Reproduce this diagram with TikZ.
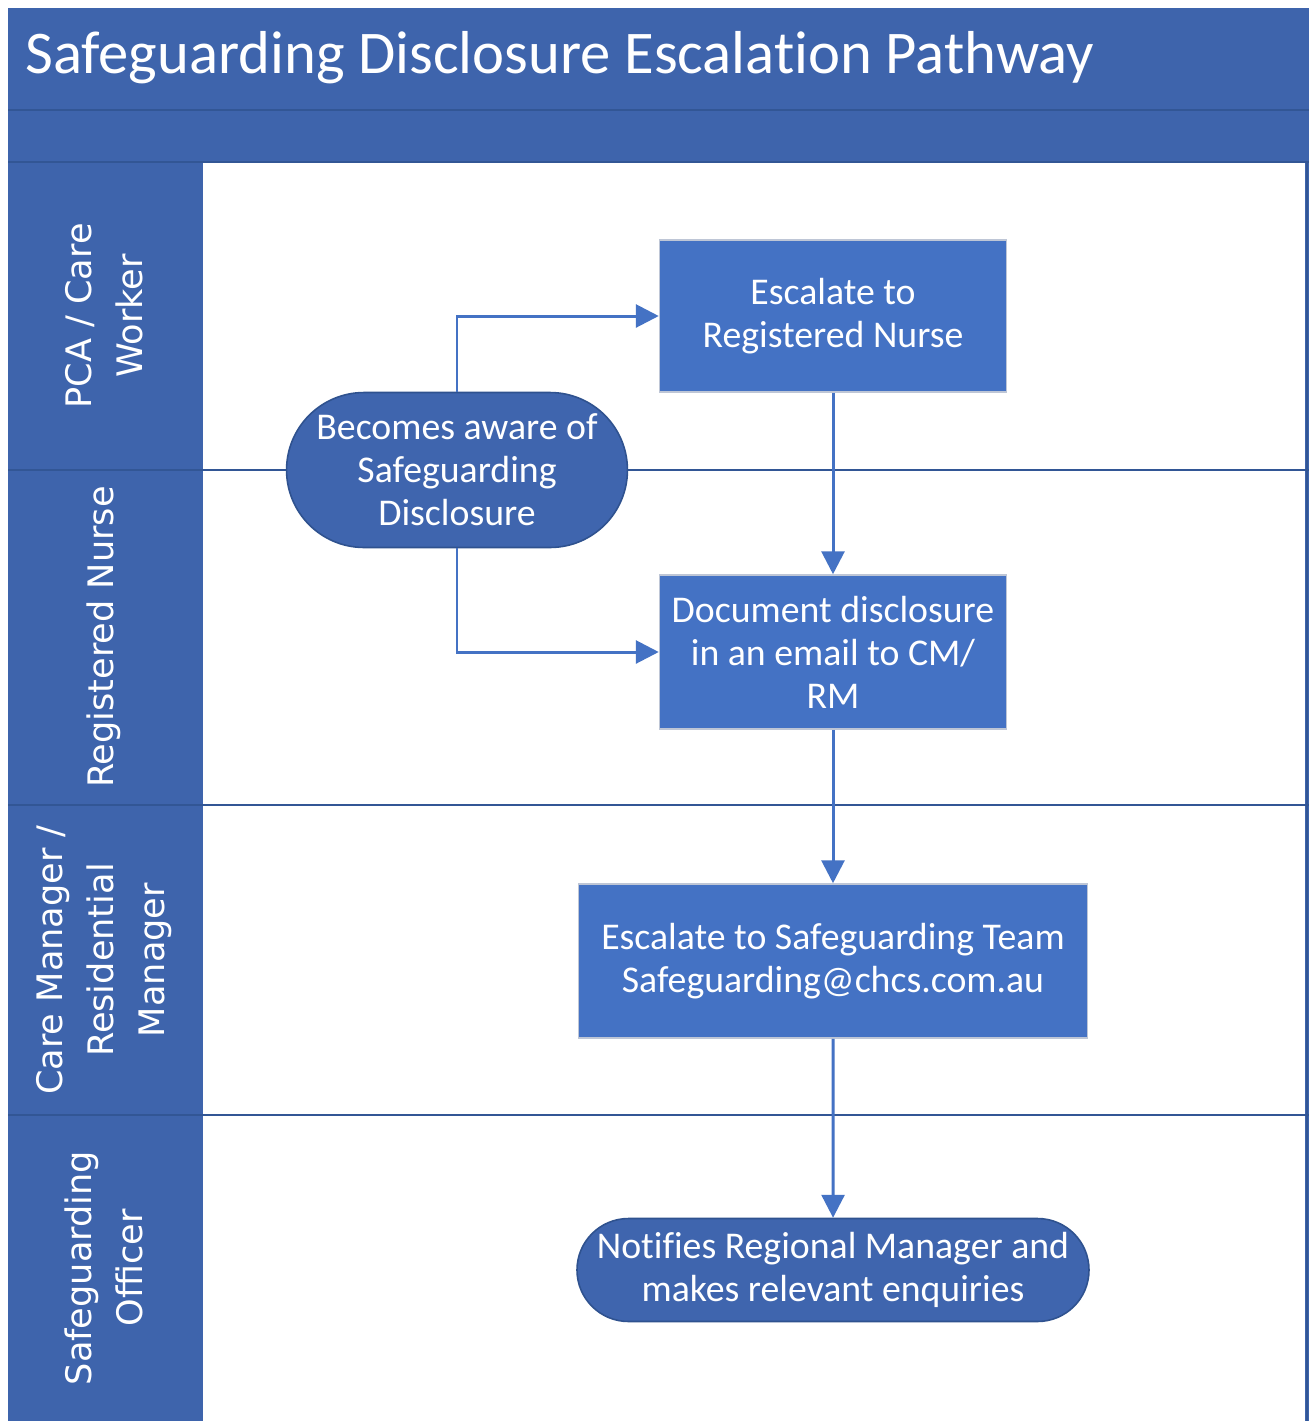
\documentclass[tikz,border=0pt]{standalone}
\usepackage{fontspec}
\setmainfont{Carlito}[Ligatures=NoCommon]
\newfontfamily\lanefont{DejaVu Sans}
\usetikzlibrary{arrows.meta, positioning, shapes.misc}
\definecolor{hdrblue}{RGB}{62,100,172}
\definecolor{boxblue}{RGB}{68,114,196}
\definecolor{termblue}{RGB}{63,101,174}
\definecolor{edgeblue}{RGB}{47,82,143}
\definecolor{rimgray}{RGB}{190,198,214}

\begin{document}
\begin{tikzpicture}[x=0.02cm, y=-0.02cm,
    lane/.style={text=white, rotate=90, align=center, font=\lanefont\fontsize{20}{29}\selectfont},
    proc/.style={draw=rimgray, line width=0.9pt, fill=boxblue, text=white, align=center,
      inner sep=2pt, font=\fontsize{21.5}{24.5}\selectfont},
    term/.style={rounded rectangle, draw=edgeblue, line width=0.9pt, fill=termblue, text=white,
      align=center, inner sep=2pt, font=\fontsize{21.5}{24.5}\selectfont},
    divider/.style={draw=edgeblue!80!hdrblue, line width=1.6pt},
    flow/.style={draw=boxblue, line width=1.7pt, -{Triangle[length=13pt, width=13pt]}}]
  \useasboundingbox (0,0) rectangle (1309,1421);
  \fill[hdrblue] (8,8) rectangle (1309,1421);
  \fill[white] (203,162) rectangle (1305,1421);
  \draw[divider] (8,110) -- (1309,110);
  \draw[divider] (8,162) -- (1309,162);
  \foreach \y in {470,805,1115} \draw[divider] (8,\y) -- (1309,\y);
  \draw[divider] (1307,162) -- (1307,1421);

  \node[anchor=west, text=white, font=\fontsize{34.5}{40}\selectfont] (title) at (19,58)
    {Safeguarding Disclosure Escalation Pathway};

  \node[lane] (pca) at (104,316) {PCA / Care\\Worker};
  \node[lane] (rn) at (104,637) {Registered Nurse};
  \node[lane] (cm) at (104,960) {Care Manager /\\Residential\\Manager};
  \node[lane] (so) at (104,1268) {Safeguarding\\Officer};

  \node[term, minimum width=6.96cm, minimum height=3.1cm] (aware) at (457,470)
    {Becomes aware of\\Safeguarding\\Disclosure};
  \node[proc, minimum width=6.94cm, minimum height=3.04cm] (nurse) at (833,316)
    {Escalate to\\Registered Nurse};
  \node[proc, minimum width=6.94cm, minimum height=3.08cm] (email) at (833,652)
    {Document disclosure\\in an email to CM/\\RM};
  \node[proc, minimum width=10.18cm, minimum height=3.08cm] (team) at (833,961)
    {Escalate to Safeguarding Team\\Safeguarding@chcs.com.au};
  \node[term, minimum width=10.22cm, minimum height=2.06cm] (notify) at (833,1270)
    {Notifies Regional Manager and\\makes relevant enquiries};

  \draw[flow] (aware.north) |- (nurse.west);
  \draw[flow] (aware.south) |- (email.west);
  \draw[flow] (nurse) -- (email);
  \draw[flow] (email) -- (team);
  \draw[flow] (team) -- (notify);
\end{tikzpicture}
\end{document}
